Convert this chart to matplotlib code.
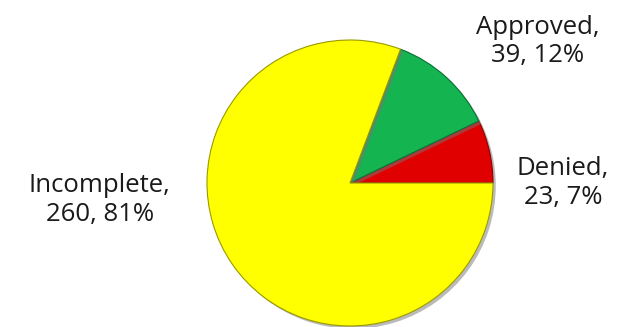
import matplotlib.pyplot as plt
import matplotlib.patheffects as pe

categories = ['Denied', 'Approved', 'Incomplete']
counts = [23, 39, 260]
colors = ['#E00000', '#14B450', '#FFFF00']
edges = ['#8A0000', '#0A7035', '#9A9A00']

# label anchor points, in pie radius units
label_pos = [(1.49, 0.0), (1.31, 0.99), (-1.75, -0.12)]

plt.rcParams['font.family'] = ['Open Sans', 'DejaVu Sans']

fig = plt.figure(figsize=(6.24, 3.27), dpi=100)
r_px = 143
ax = fig.add_axes([(350 - r_px) / 624, (327 - 183 - r_px) / 327,
                   2 * r_px / 624, 2 * r_px / 327])

wedges, _ = ax.pie(counts, colors=colors, startangle=0, counterclock=True,
                   radius=1, wedgeprops=dict(linewidth=0.8))
ax.set_xlim(-1, 1)
ax.set_ylim(-1, 1)
ax.axis('off')
for w, ec in zip(wedges, edges):
    w.set_edgecolor(ec)
    w.set_path_effects([pe.SimplePatchShadow(offset=(2, -2), shadow_rgbFace='#777777', alpha=0.5),
                        pe.Normal()])

total = sum(counts)
for name, n, (x, y) in zip(categories, counts, label_pos):
    pct = round(100 * n / total)
    ax.text(x, y, f'{name},\n{n}, {pct}%', ha='center', va='center',
            fontsize=18.5, color='#1a1a1a', linespacing=1.2, clip_on=False)

fig.savefig('out.png', dpi=100)
